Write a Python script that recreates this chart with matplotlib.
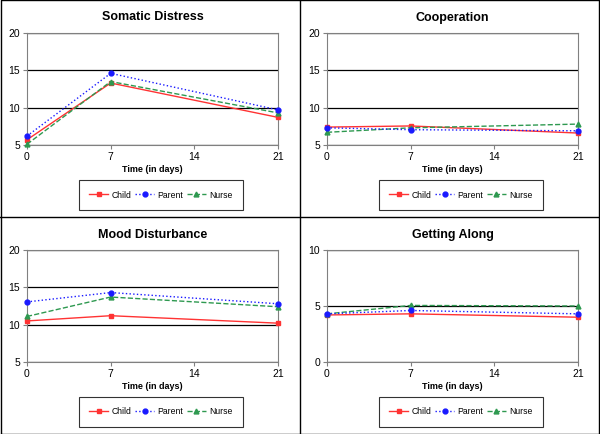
import matplotlib
matplotlib.use('Agg')
import matplotlib.pyplot as plt
from matplotlib.lines import Line2D

plt.rcParams['font.family'] = ['Liberation Sans', 'DejaVu Sans']

days = [0, 7, 21]
titles = ['Somatic Distress', 'Cooperation', 'Mood Disturbance', 'Getting Along']
ylims = [(5, 20), (5, 20), (5, 20), (0, 10)]
yticks = [[5, 10, 15, 20], [5, 10, 15, 20], [5, 10, 15, 20], [0, 5, 10]]

child = [[5.7, 13.3, 8.7], [7.4, 7.55, 6.6], [10.5, 11.2, 10.2], [4.2, 4.3, 4.0]]
parent = [[6.2, 14.6, 9.7], [7.3, 7.05, 6.9], [13.05, 14.3, 12.8], [4.3, 4.6, 4.3]]
nurse = [[5.1, 13.5, 9.3], [6.7, 7.3, 7.8], [11.1, 13.7, 12.4], [4.3, 5.05, 5.0]]

W, H = 600, 434
fig = plt.figure(figsize=(6, 4.34), dpi=100)

for i in range(4):
    r, c = divmod(i, 2)
    x0 = c * 300 + 27
    y0 = r * 217 + 33
    ax = fig.add_axes([x0 / W, 1 - (y0 + 112) / H, 251 / W, 112 / H])
    ax.plot(days, child[i], color='#ff3333', ls='-', lw=1, marker='s', ms=3.5,
            label='Child', zorder=3, clip_on=False)
    ax.plot(days, parent[i], color='#1a1aff', ls=':', lw=1, marker='o', ms=3.5,
            label='Parent', zorder=4, clip_on=False)
    ax.plot(days, nurse[i], color='#2e9950', ls='--', lw=1, marker='^', ms=3.5,
            label='Nurse', zorder=3, clip_on=False)
    ax.set_xlim(0, 21)
    ax.set_ylim(*ylims[i])
    ax.set_xticks([0, 7, 14, 21])
    ax.set_yticks(yticks[i])
    ax.yaxis.grid(True, color='black', lw=0.9)
    ax.set_axisbelow(True)
    for s in ax.spines.values():
        s.set_color('#808080')
    ax.tick_params(labelsize=7.5, length=3, color='#808080', pad=2)
    ax.set_title(titles[i], fontsize=9, fontweight='bold', pad=9)
    ax.set_xlabel('Time (in days)', fontsize=6.5, fontweight='bold', labelpad=2)
    leg = ax.legend(loc='center', ncol=3, fontsize=6.2,
                    bbox_to_anchor=((c * 300 + 161) / W, 1 - (r * 217 + 195) / H),
                    bbox_transform=fig.transFigure, fancybox=False,
                    edgecolor='black', handlelength=2.2, columnspacing=0.4,
                    handletextpad=0.4, borderpad=1.2, borderaxespad=0)
    leg.get_frame().set_linewidth(0.8)

# panel dividers and outer border
for xs, ys in [([0.5, 0.5], [0, 1]), ([0, 1], [0.5, 0.5]),
               ([0.001, 0.999, 0.999, 0.001, 0.001], [0.001, 0.001, 0.999, 0.999, 0.001])]:
    fig.add_artist(Line2D(xs, ys, color='black', lw=1, transform=fig.transFigure))

fig.savefig('out.png', dpi=100)
